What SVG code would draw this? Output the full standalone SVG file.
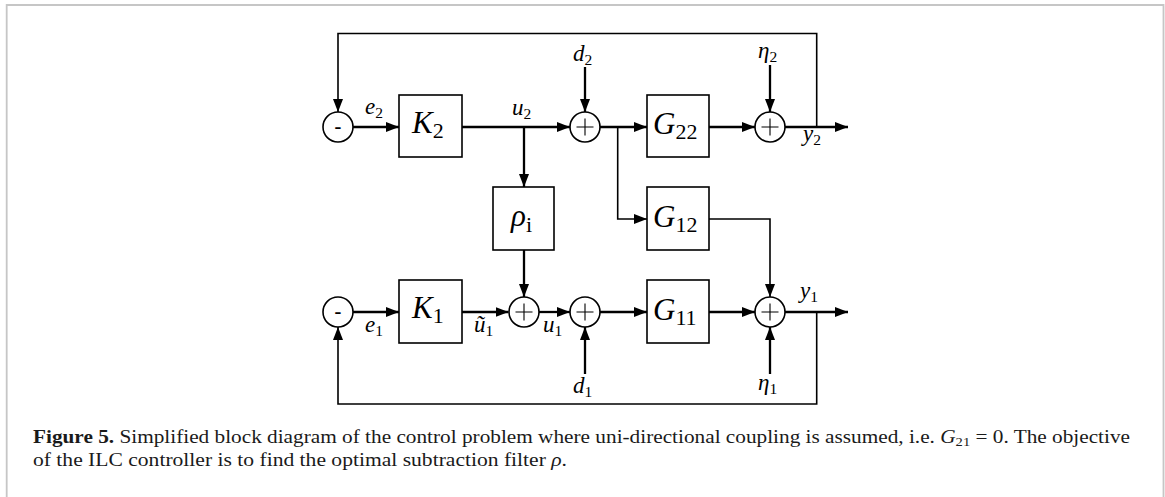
<svg xmlns="http://www.w3.org/2000/svg" width="1165" height="497" viewBox="0 0 1165 497">
<defs>
<style>
.thick{fill:none;stroke:#000;stroke-width:2.3}
.thin{fill:none;stroke:#000;stroke-width:1.6}
.box{fill:#fff;stroke:#000;stroke-width:1.6}
.sum{fill:#fff;stroke:#000;stroke-width:1.6}
.plus{stroke:#000;stroke-width:1.1}
.v{font-family:"Liberation Serif",serif;font-style:italic;font-size:23px;fill:#000}
.vs{font-style:normal;font-size:15.5px}
.b{font-family:"Liberation Serif",serif;font-style:italic;font-size:31px;fill:#000}
.bs{font-style:normal;font-size:22px}
.minus{font-family:"Liberation Sans",sans-serif;font-size:22px;fill:#000;text-anchor:middle}
.cap{font-family:"Liberation Serif",serif;font-size:19px;fill:#1a1a1a}
</style>
<marker id="ah" markerUnits="userSpaceOnUse" markerWidth="14" markerHeight="11" refX="13" refY="5" orient="auto">
<path d="M0,0 L13,5 L0,10 Z" fill="#000"/>
</marker>
</defs>
<rect width="1165" height="497" fill="#fff"/>
<path d="M6.7,497 V5 H1163.5 V497" fill="none" stroke="#c6c6c6" stroke-width="1.8"/>

<g id="connectors">
<path class="thick" d="M353,127 H399" marker-end="url(#ah)"/>
<path class="thick" d="M462,127 H570" marker-end="url(#ah)"/>
<path class="thick" d="M524,127 V187" marker-end="url(#ah)"/>
<path class="thick" d="M600,127 H647" marker-end="url(#ah)"/>
<path class="thick" d="M709,127 H755" marker-end="url(#ah)"/>
<path class="thick" d="M785,127 H848" marker-end="url(#ah)"/>
<path class="thick" d="M585,67 V112" marker-end="url(#ah)"/>
<path class="thick" d="M770,65 V112" marker-end="url(#ah)"/>
<path class="thick" d="M353,312 H399" marker-end="url(#ah)"/>
<path class="thick" d="M462,312 H508.5" marker-end="url(#ah)"/>
<path class="thick" d="M524,250 V297" marker-end="url(#ah)"/>
<path class="thick" d="M539,312 H570" marker-end="url(#ah)"/>
<path class="thick" d="M600,312 H647" marker-end="url(#ah)"/>
<path class="thick" d="M709,312 H755" marker-end="url(#ah)"/>
<path class="thick" d="M785,312 H848" marker-end="url(#ah)"/>
<path class="thick" d="M585,374 V327" marker-end="url(#ah)"/>
<path class="thick" d="M770,374 V327" marker-end="url(#ah)"/>
<path class="thin" d="M816.7,127 V33.5 H338 V112" marker-end="url(#ah)"/>
<path class="thin" d="M617.7,127 V219 H647" marker-end="url(#ah)"/>
<path class="thin" d="M709,219 H770 V297" marker-end="url(#ah)"/>
<path class="thin" d="M816.7,312 V404 H338 V327" marker-end="url(#ah)"/>
</g>

<g id="minus2"><circle class="sum" cx="338" cy="127" r="15"/><text class="minus" x="338" y="134">-</text></g>
<g id="minus1"><circle class="sum" cx="338" cy="312" r="15"/><text class="minus" x="338" y="319">-</text></g>
<g id="sum_d2"><circle class="sum" cx="585" cy="127" r="15"/><path class="plus" d="M576.5,127 H593.5 M585,118.5 V135.5"/></g>
<g id="sum_eta2"><circle class="sum" cx="770" cy="127" r="15"/><path class="plus" d="M761.5,127 H778.5 M770,118.5 V135.5"/></g>
<g id="sum_rho"><circle class="sum" cx="524" cy="312" r="15"/><path class="plus" d="M515.5,312 H532.5 M524,303.5 V320.5"/></g>
<g id="sum_d1"><circle class="sum" cx="585" cy="312" r="15"/><path class="plus" d="M576.5,312 H593.5 M585,303.5 V320.5"/></g>
<g id="sum_eta1"><circle class="sum" cx="770" cy="312" r="15"/><path class="plus" d="M761.5,312 H778.5 M770,303.5 V320.5"/></g>

<g id="K2"><rect class="box" x="399" y="95" width="63" height="62"/><text class="b" x="412" y="133">K<tspan class="bs" dy="5">2</tspan></text></g>
<g id="G22"><rect class="box" x="647" y="95" width="62" height="62"/><text class="b" x="653" y="134">G<tspan class="bs" dy="5">22</tspan></text></g>
<g id="rho"><rect class="box" x="493" y="187" width="61" height="63"/><text class="b" x="511" y="226">ρ<tspan class="bs" dy="6">i</tspan></text></g>
<g id="G12"><rect class="box" x="647" y="187" width="62" height="63"/><text class="b" x="653" y="227">G<tspan class="bs" dy="5">12</tspan></text></g>
<g id="K1"><rect class="box" x="399" y="280" width="63" height="63"/><text class="b" x="412" y="318">K<tspan class="bs" dy="5">1</tspan></text></g>
<g id="G11"><rect class="box" x="647" y="280" width="62" height="63"/><text class="b" x="653" y="320">G<tspan class="bs" dy="5">11</tspan></text></g>

<g id="labels">
<text class="v" x="365" y="114">e<tspan class="vs" dy="4">2</tspan></text>
<text class="v" x="512" y="115">u<tspan class="vs" dy="4">2</tspan></text>
<text class="v" x="573" y="61">d<tspan class="vs" dy="4">2</tspan></text>
<text class="v" x="758" y="58">η<tspan class="vs" dy="4">2</tspan></text>
<text class="v" x="803" y="141">y<tspan class="vs" dy="4">2</tspan></text>
<text class="v" x="365" y="332">e<tspan class="vs" dy="4">1</tspan></text>
<text class="v" x="474" y="332">ũ<tspan class="vs" dy="4">1</tspan></text>
<text class="v" x="543" y="332">u<tspan class="vs" dy="4">1</tspan></text>
<text class="v" x="800" y="298">y<tspan class="vs" dy="4">1</tspan></text>
<text class="v" x="573" y="393">d<tspan class="vs" dy="4">1</tspan></text>
<text class="v" x="758" y="390">η<tspan class="vs" dy="4">1</tspan></text>
</g>

<g id="caption">
<text class="cap" x="33" y="443" textLength="1097" lengthAdjust="spacingAndGlyphs"><tspan font-weight="bold">Figure 5.</tspan> Simplified block diagram of the control problem where uni-directional coupling is assumed, i.e. <tspan font-style="italic">G</tspan><tspan font-size="13px" dy="3">21</tspan><tspan dy="-3"> = 0. The objective</tspan></text>
<text class="cap" x="33" y="466" textLength="534" lengthAdjust="spacingAndGlyphs">of the ILC controller is to find the optimal subtraction filter <tspan font-style="italic">ρ</tspan>.</text>
</g>
</svg>
